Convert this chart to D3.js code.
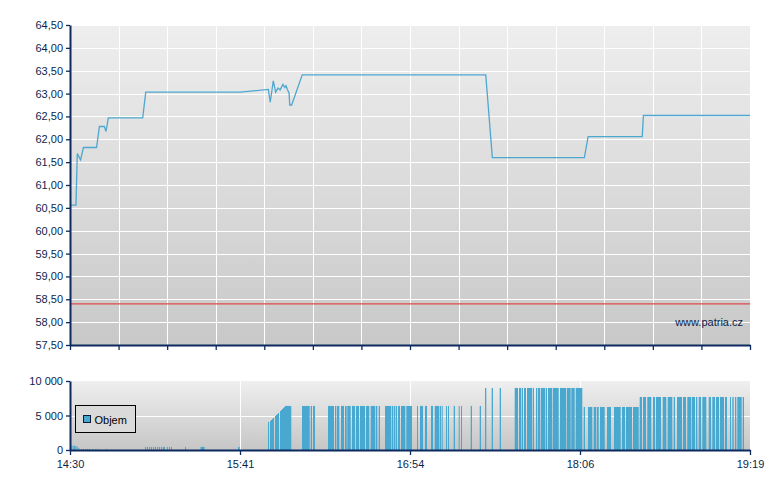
<!DOCTYPE html>
<html><head><meta charset="utf-8">
<script src="https://cdn.jsdelivr.net/npm/d3@7"></script>
<style>
html,body{margin:0;padding:0;background:#fff;}
text{font-family:"Liberation Sans",Arial,sans-serif;font-size:11px;fill:#0b1f4d;}
</style></head>
<body>
<svg id="chart" width="780" height="490"></svg>
<script>
// ---- DATA ----
// price line: minutes since 14:30 and price
const priceTimes = [0,2.55,3.1,4.5,5.7,11.3,12.5,14.6,15.3,16.3,30.9,32.2,72.3,84.3,85.1,86.4,87.4,88.4,89.3,90.5,91.3,91.8,92.4,93.1,93.4,94.2,98.7,176.7,179.5,218.6,220.2,243.2,243.7,289];
const priceValues = [60.56,60.56,61.69,61.55,61.82,61.82,62.28,62.28,62.17,62.47,62.47,63.03,63.03,63.09,62.81,63.28,63.03,63.12,63.08,63.20,63.13,63.17,63.09,63.01,62.75,62.75,63.41,63.41,61.60,61.60,62.06,62.06,62.52,62.52];
const referencePrice = 58.40;

// volume bars: start minute, end minute, volume
const volStart = [0.55,1.15,1.7,2.25,2.85,3.53,4.68,5.53,6.38,7.23,8.08,9.35,10.63,11.48,15.3,
 31.9,32.7,33.6,34.4,35.3,36.1,37.0,37.8,38.7,39.5,41.2,42.1,42.9,48.9,55.5,71.4,
 84.15,85.0,85.43,85.85,86.28,87.13,87.55,87.98,88.4,89.25,89.68,90.1,90.53,90.95,91.38,91.8,92.23,
 98.6,102.3,103.28,109.65,112.63,113.48,115.18,116.88,117.85,119.85,121.55,123.25,125.8,127.8,129.92,131.2,133.88,136.72,137.57,138.42,139.4,140.68,142.93,147.48,148.75,150.88,153.43,155.0,157.12,157.97,159.8,160.65,163.07,165.2,166.18,170.3,174.12,176.38,
 179.22,182.62,189.0,190.83,191.97,192.95,194.23,196.65,198.05,198.9,200.05,202.17,203.15,205.15,208.25,211.23,213.05,214.92,218.32,
 220.15,222.57,223.85,225.25,228.23,231.2,234.6,236.3,239.28,242.12,
 243.53,245.35,247.78,249.05,251.9,254.02,256.57,257.98,260.53,262.35,264.22,266.05,267.2,268.73,271.45,272.98,274.55,276.25,278.38,280.5,281.48,282.63,283.6,285.9,287.0];
const volEnd = [0.98,1.57,2.12,2.68,3.27,3.95,5.1,5.95,6.8,7.65,8.5,9.77,11.05,11.9,15.72,
 32.3,33.1,34.0,34.8,35.7,36.5,37.4,38.2,39.1,40.35,41.6,42.5,43.3,49.3,57.2,72.1,
 84.57,85.42,85.85,86.27,86.7,87.55,87.97,88.4,88.82,89.67,90.1,90.52,90.95,91.37,91.8,92.22,94.05,
 101.88,102.85,104.13,112.2,113.18,114.45,116.45,117.6,119.3,121.13,122.83,125.38,127.2,129.63,130.6,131.75,136.43,137.28,138.13,138.98,140.25,142.5,145.35,147.9,150.03,151.73,154.28,156.83,157.68,158.4,160.23,161.08,163.63,165.62,166.6,170.85,174.68,176.93,
 179.78,183.18,190.4,191.68,192.53,193.8,196.35,197.2,198.6,199.75,201.88,202.73,204.85,207.7,210.93,212.8,214.5,217.73,218.88,
 221.98,223.55,224.7,227.25,229.93,234.05,235.88,238.85,241.7,243.1,
 244.8,247.05,248.63,251.18,253.43,255.98,257.13,260.1,261.8,263.93,265.63,266.6,268.18,270.43,272.43,274.13,275.83,277.95,279.23,280.93,282.07,283.18,285.47,286.45,289.0];
const volValues = [620,620,620,580,480,300,150,150,150,150,150,150,150,150,150,
 450,450,450,450,450,450,450,450,450,450,450,450,450,450,450,450,
 4060,4200,4350,4500,4640,4930,5070,5220,5360,5650,5800,5940,6090,6230,6380,6380,6380,
 6380,6380,6380,6380,6380,6380,6380,6380,6380,6380,6380,6380,6380,6380,6380,6380,6380,6380,6380,6380,6380,6380,6380,6380,6380,6380,6380,6380,6380,6380,6380,6380,6380,6380,6380,6380,6380,
 8990,8990,8990,8990,8990,8990,8990,8990,8990,8990,8990,8990,8990,8990,8990,8990,8990,8990,8990,
 6230,6230,6230,6230,6230,6230,6230,6230,6230,6230,
 7680,7680,7680,7680,7680,7680,7680,7680,7680,7680,7680,7680,7680,7680,7680,7680,7680,7680,7680,7680,7680,7680,7680,7680,7680];

const sessionMinutes = 289;
const timeLabels = ["14:30","15:41","16:54","18:06","19:19"];
const priceTicks = [57.5,58,58.5,59,59.5,60,60.5,61,61.5,62,62.5,63,63.5,64,64.5];
const volTicks = [0,5000,10000];
const legendLabel = "Objem";
const watermark = "www.patria.cz";

// ---- LAYOUT ----
const L = 70, R = 750, mTop = 25, mBot = 345, vTop = 381, vBot = 450;
const axisColor = "#0d2a5e";
const lineColor = "#4ea7cf";
const barColor = "#48a8d0";

const loc = d3.formatLocale({decimal:",", thousands:"\u00a0", grouping:[3], currency:["",""]});
const fPrice = loc.format(".2f");
const fVol = loc.format(",.0f");

const svg = d3.select("#chart");
const defs = svg.append("defs");
function grad(id, c1, c2){
  const g = defs.append("linearGradient").attr("id", id).attr("x1",0).attr("y1",0).attr("x2",0).attr("y2",1);
  g.append("stop").attr("offset","0%").attr("stop-color",c1);
  g.append("stop").attr("offset","100%").attr("stop-color",c2);
}
grad("gMain","#eeeeee","#c8c8c8");
grad("gVol","#efefef","#c6c6c6");

const x = d3.scaleLinear().domain([0, sessionMinutes]).range([L, R]);
const yP = d3.scaleLinear().domain([57.5, 64.5]).range([mBot, mTop]);
const yV = d3.scaleLinear().domain([0, 10000]).range([vBot, vTop]);

const gridTimes = d3.range(15).map(i => i * sessionMinutes / 14);
const labelTimes = timeLabels.map((_, i) => i * sessionMinutes / (timeLabels.length - 1));

// ---- MAIN PANEL ----
svg.append("rect").attr("x", L).attr("y", mTop).attr("width", R - L).attr("height", mBot - mTop).attr("fill","url(#gMain)");
const gm = svg.append("g");
gm.selectAll("line.hg").data(priceTicks).join("line")
  .attr("x1", L).attr("x2", R).attr("y1", d => Math.round(yP(d)) + 0.5).attr("y2", d => Math.round(yP(d)) + 0.5)
  .attr("stroke", "#fff").attr("stroke-width", 1);
gm.selectAll("line.vg").data(gridTimes).join("line")
  .attr("x1", d => Math.round(x(d)) + 0.5).attr("x2", d => Math.round(x(d)) + 0.5).attr("y1", mTop).attr("y2", mBot)
  .attr("stroke", "#fff").attr("stroke-width", 1);

svg.append("text").attr("x", 743).attr("y", 326).attr("text-anchor","end").text(watermark);

svg.append("line").attr("x1", L).attr("x2", R)
  .attr("y1", yP(referencePrice)).attr("y2", yP(referencePrice))
  .attr("stroke", "#e04848").attr("stroke-width", 1.3);

const pts = priceTimes.map((t, i) => [t, priceValues[i]]);
svg.append("path").datum(pts)
  .attr("d", d3.line().x(d => x(d[0])).y(d => yP(d[1])))
  .attr("fill","none").attr("stroke", lineColor).attr("stroke-width", 1.3);

// main axes
const ay = svg.append("g").attr("transform", `translate(${L},0)`)
  .call(d3.axisLeft(yP).tickValues(priceTicks).tickFormat(fPrice).tickSize(4).tickPadding(3).tickSizeOuter(0));
const ax = svg.append("g").attr("transform", `translate(0,${mBot})`)
  .call(d3.axisBottom(x).tickValues(gridTimes).tickFormat("").tickSize(5).tickSizeOuter(0));

// ---- VOLUME PANEL ----
svg.append("rect").attr("x", L).attr("y", vTop).attr("width", R - L).attr("height", vBot - vTop).attr("fill","url(#gVol)");
svg.append("line").attr("x1", L).attr("x2", R).attr("y1", Math.round(yV(5000)) + 0.5).attr("y2", Math.round(yV(5000)) + 0.5)
  .attr("stroke","#fff");
svg.selectAll("line.vvg").data(labelTimes.slice(1, -1)).join("line")
  .attr("x1", d => Math.round(x(d)) + 0.5).attr("x2", d => Math.round(x(d)) + 0.5).attr("y1", vTop).attr("y2", vBot)
  .attr("stroke","#fff");

svg.append("g").selectAll("rect").data(volValues).join("rect")
  .attr("x", (d, i) => x(volStart[i]))
  .attr("width", (d, i) => Math.max(1, x(volEnd[i]) - x(volStart[i])))
  .attr("y", d => yV(d))
  .attr("height", d => yV(0) - yV(d))
  .attr("fill", barColor);

svg.append("g").attr("transform", `translate(${L},0)`)
  .call(d3.axisLeft(yV).tickValues(volTicks).tickFormat(fVol).tickSize(4).tickPadding(3).tickSizeOuter(0));
svg.append("g").attr("transform", `translate(0,${vBot})`)
  .call(d3.axisBottom(x).tickValues(labelTimes).tickFormat((d, i) => timeLabels[i]).tickSize(5).tickPadding(5).tickSizeOuter(0));

// legend
const lg = svg.append("g").attr("transform","translate(75.5,405.5)");
lg.append("rect").attr("width", 60).attr("height", 27).attr("fill", "#dadada").attr("stroke", "#000").attr("stroke-width", 1);
lg.append("rect").attr("x", 8).attr("y", 10).attr("width", 7).attr("height", 7).attr("fill", barColor).attr("stroke", "#0a1a3a");
lg.append("text").attr("x", 19).attr("y", 18.5).style("fill","#000").text(legendLabel);

// axis styling
svg.selectAll(".domain").attr("stroke", axisColor).attr("stroke-width", 2);
svg.selectAll(".tick line").attr("stroke", axisColor).attr("stroke-width", 1.3);
svg.selectAll(".tick text").style("font-family", '"Liberation Sans",Arial,sans-serif').style("font-size","11px").attr("fill", "#0b1f4d");
</script>
</body></html>
